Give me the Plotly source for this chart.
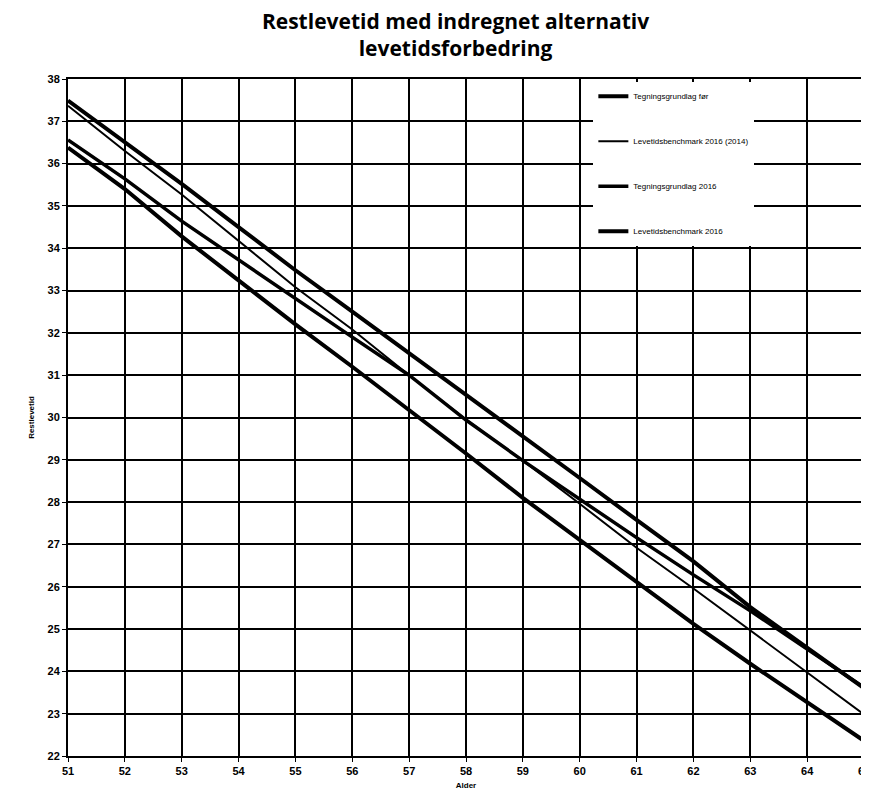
import plotly.graph_objects as go

ages = list(range(51, 66))

tegning_foer = [37.49, 36.50, 35.52, 34.50, 33.48, 32.50, 31.52, 30.55, 29.55, 28.57, 27.58, 26.60, 25.52, 24.57, 23.60]
benchmark_2016_2014 = [37.37, 36.30, 35.27, 34.17, 33.08, 32.08, 31.00, 29.95, 28.98, 27.96, 26.92, 25.96, 24.96, 23.98, 22.98]
tegning_2016 = [36.56, 35.64, 34.64, 33.72, 32.80, 31.90, 31.00, 29.94, 28.98, 28.07, 27.16, 26.28, 25.43, 24.53, 23.62]
benchmark_2016 = [36.38, 35.40, 34.28, 33.24, 32.20, 31.20, 30.18, 29.15, 28.10, 27.10, 26.12, 25.12, 24.18, 23.26, 22.36]

names = ["Tegningsgrundlag før", "Levetidsbenchmark 2016 (2014)", "Tegningsgrundlag 2016", "Levetidsbenchmark 2016"]
series = [tegning_foer, benchmark_2016_2014, tegning_2016, benchmark_2016]
widths = [4, 2, 3.5, 4]

fig = go.Figure()
for i, (n, s, w) in enumerate(zip(names, series, widths)):
    fig.add_trace(go.Scatter(x=ages, y=s, mode="lines", name=n, legendgroup=f"g{i}",
                             line=dict(color="black", width=w)))

tickfont = dict(family="Liberation Sans Narrow, Liberation Sans, Arial", size=11, color="black", weight="bold")

fig.update_layout(
    width=869, height=792,
    paper_bgcolor="white", plot_bgcolor="white",
    margin=dict(l=60, r=7, t=71, b=44),
    title=dict(text="Restlevetid med indregnet alternativ<br>levetidsforbedring",
               x=0.515, xanchor="center", yref="container", y=1 - 21 / 792, yanchor="middle",
               font=dict(family="Open Sans, sans-serif", size=21, color="black", weight="bold")),
    showlegend=True,
    legend=dict(x=0.66, xanchor="left", y=0.996, yanchor="top", bgcolor="white",
                borderwidth=0, tracegroupgap=26, itemwidth=30,
                font=dict(family="Liberation Sans Narrow, Arial", size=8, color="black")),
    xaxis=dict(range=[51, 65], dtick=1, tickmode="linear", showgrid=True, gridcolor="black", gridwidth=1.5,
               showline=True, linecolor="black", linewidth=2, mirror=True, ticks="outside",
               ticklen=4, tickcolor="black", tickfont=tickfont, zeroline=False,
               title=dict(text="Alder", standoff=6,
                          font=dict(family="Liberation Sans Narrow, Arial", size=8, color="black", weight="bold"))),
    yaxis=dict(range=[22, 38], dtick=1, tickmode="linear", showgrid=True, gridcolor="black", gridwidth=1.5,
               showline=True, linecolor="black", linewidth=2, mirror=True, ticks="outside",
               ticklen=4, tickcolor="black", tickfont=tickfont, zeroline=False,
               title=dict(text="Restlevetid", standoff=12,
                          font=dict(family="Liberation Sans Narrow, Arial", size=8, color="black", weight="bold"))),
)

fig.write_html("out.html")
